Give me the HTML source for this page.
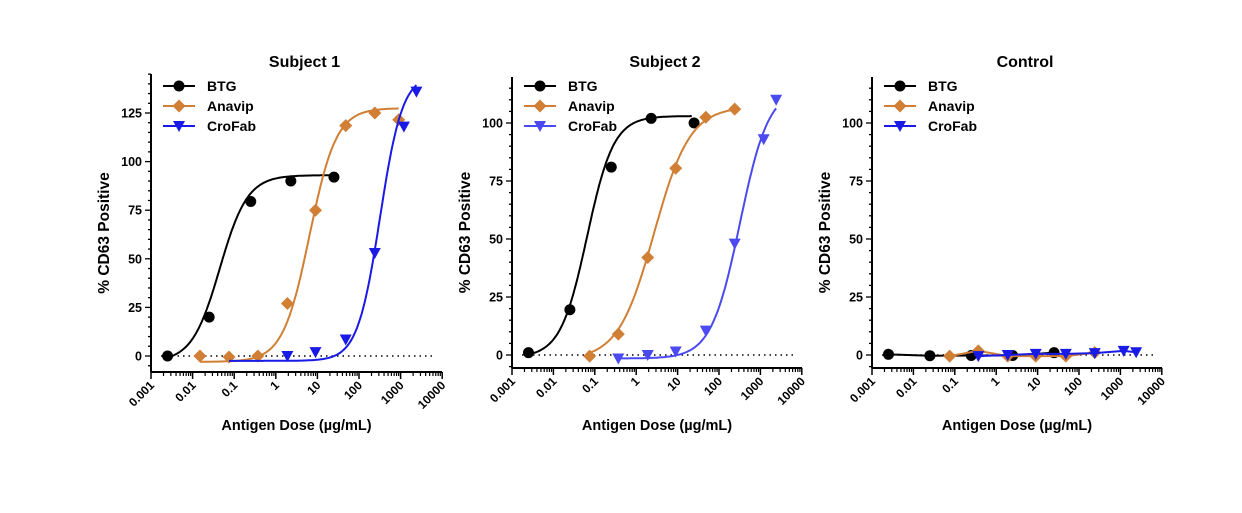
<!DOCTYPE html>
<html><head><meta charset="utf-8"><style>
body{margin:0;background:#fff;width:1242px;height:508px;overflow:hidden}
svg{font-family:"Liberation Sans",sans-serif;font-weight:bold}
</style></head><body>
<svg id="s" width="1242" height="508" xmlns="http://www.w3.org/2000/svg"></svg>
<script>
const S=document.getElementById('s');let h='';
function lg(v){return Math.log10(v);}
function panel(o){
 const X=v=>o.x0+(lg(v)+3)*o.dec, Y=v=>o.y0-v*o.py;
 h+=`<text x="${(o.x0+o.x1)/2+8}" y="67" font-size="16" text-anchor="middle">${o.title}</text>`;
 h+=`<line x1="${o.x0}" y1="${o.ytop}" x2="${o.x0}" y2="${o.xb}" stroke="#000" stroke-width="2"/>`;
 h+=`<line x1="${o.x0}" y1="${o.xb}" x2="${o.x1}" y2="${o.xb}" stroke="#000" stroke-width="2"/>`;
 for(let v=-5;v<=o.ymax;v+=5){const y=Y(v);if(y<o.ytop-1||y>o.xb)continue;const maj=v%25==0;
  h+=`<line x1="${o.x0-(maj?6:3)}" y1="${y}" x2="${o.x0}" y2="${y}" stroke="#000" stroke-width="1.3"/>`;
  if(maj&&v>=0)h+=`<text x="${o.x0-9}" y="${y+4.5}" font-size="12.5" text-anchor="end">${v}</text>`;}
 const labs=['0.001','0.01','0.1','1','10','100','1000','10000'];
 for(let d=0;d<=7;d++){const x=o.x0+d*o.dec;
  h+=`<line x1="${x}" y1="${o.xb}" x2="${x}" y2="${o.xb+7}" stroke="#000" stroke-width="1.5"/>`;
  h+=`<text transform="translate(${x+4},${o.xb+14}) rotate(-45)" font-size="12" text-anchor="end">${labs[d]}</text>`;
  if(d<7)for(let k=2;k<10;k++){const xx=x+lg(k)*o.dec;h+=`<line x1="${xx}" y1="${o.xb}" x2="${xx}" y2="${o.xb+4}" stroke="#000" stroke-width="1.2"/>`;}}
 h+=`<line x1="${o.x0+10}" y1="${Y(0)}" x2="${o.x1-6}" y2="${Y(0)}" stroke="#000" stroke-width="1.5" stroke-dasharray="1.5,4"/>`;
 h+=`<text x="${(o.x0+o.x1)/2}" y="430" font-size="14.5" text-anchor="middle">Antigen Dose (µg/mL)</text>`;
 h+=`<text transform="translate(${o.x0-42},${(o.ytop+o.xb)/2+10}) rotate(-90)" font-size="15.5" text-anchor="middle">% CD63 Positive</text>`;
 o.series.forEach(s=>{
  if(s.fit){const [b,t,ec,hl,a,z]=s.fit;let p='';
   for(let i=0;i<=120;i++){const l=lg(a)+(lg(z)-lg(a))*i/120;const v=b+(t-b)/(1+Math.pow(10,(lg(ec)-l)*hl));p+=(i?'L':'M')+X(Math.pow(10,l)).toFixed(1)+','+Y(v).toFixed(1);}
   h+=`<path d="${p}" fill="none" stroke="${s.c}" stroke-width="2"/>`;}
  else{h+=`<polyline points="${s.pts.map(q=>X(q[0])+','+Y(q[1])).join(' ')}" fill="none" stroke="${s.c}" stroke-width="2"/>`;}
  s.pts.forEach(q=>h+=mk(s.m,X(q[0]),Y(q[1]),s.c));
 });
 const L=[['BTG','#000','c'],['Anavip','#d07f35','d'],['CroFab',o.blue,'t']];
 L.forEach((l,i)=>{const y=86+i*20,x=o.x0+12;
  h+=`<line x1="${x}" y1="${y}" x2="${x+32}" y2="${y}" stroke="${l[1]}" stroke-width="2"/>`+mk(l[2],x+16,y,l[1]);
  h+=`<text x="${x+44}" y="${y+5}" font-size="14">${l[0]}</text>`;});
}
function mk(m,x,y,c){
 if(m=='c')return `<circle cx="${x}" cy="${y}" r="5.5" fill="${c}"/>`;
 if(m=='d')return `<path d="M${x},${y-6.5}L${x+6.5},${y}L${x},${y+6.5}L${x-6.5},${y}Z" fill="${c}"/>`;
 return `<path d="M${x-6},${y-5}L${x+6},${y-5}L${x},${y+6}Z" fill="${c}"/>`;}
const OR='#d07f35';
panel({title:'Subject 1',x0:151,x1:442,dec:41.6,y0:356,py:1.944,ytop:74,xb:372,ymax:145,blue:'#1a1ae6',series:[
 {c:'#000',m:'c',pts:[[0.0025,0],[0.025,20],[0.25,79.5],[2.3,90],[25,92]],fit:[-3,93,0.045,1.3,0.0025,20]},
 {c:OR,m:'d',pts:[[0.015,0],[0.075,-0.5],[0.37,0],[1.9,27],[9,75],[48,118.5],[240,125],[900,121.5]],fit:[-3,127.5,6.5,1.35,0.015,900]},
 {c:'#1a1ae6',m:'t',pts:[[1.9,0],[9,2],[48,8.5],[240,53],[1200,118],[2400,136]],fit:[-2.5,145,320,1.6,0.075,2400]}]});
panel({title:'Subject 2',x0:512,x1:802,dec:41.4,y0:355,py:2.32,ytop:77,xb:368,ymax:119,blue:'#4a4af0',series:[
 {c:'#000',m:'c',pts:[[0.0025,1],[0.025,19.5],[0.25,81],[2.3,102],[25,100]],fit:[-1,103,0.065,1.35,0.0025,22]},
 {c:OR,m:'d',pts:[[0.075,-0.5],[0.37,9],[1.9,42],[9,80.5],[48,102.5],[240,106]],fit:[-2,107,2.7,1.0,0.075,240]},
 {c:'#4a4af0',m:'t',pts:[[0.37,-1.5],[1.9,0],[9,1.5],[48,10.5],[240,48],[1200,93],[2400,110]],fit:[-1.5,115,320,1.25,0.37,2400]}]});
panel({title:'Control',x0:872,x1:1162,dec:41.4,y0:355,py:2.32,ytop:77,xb:368,ymax:119,blue:'#1a1ae6',series:[
 {c:'#000',m:'c',pts:[[0.0025,0.3],[0.025,-0.3],[0.25,-0.2],[2.5,-0.2],[25,1]]},
 {c:OR,m:'d',pts:[[0.075,-0.5],[0.37,1.8],[1.9,-0.5],[9,-0.5],[48,-0.5],[240,1]]},
 {c:'#1a1ae6',m:'t',pts:[[0.37,-0.5],[1.9,0],[9,0.5],[48,0.5],[240,0.8],[1200,1.8],[2400,1.2]]}]});
S.innerHTML=h;
</script>
</body></html>
